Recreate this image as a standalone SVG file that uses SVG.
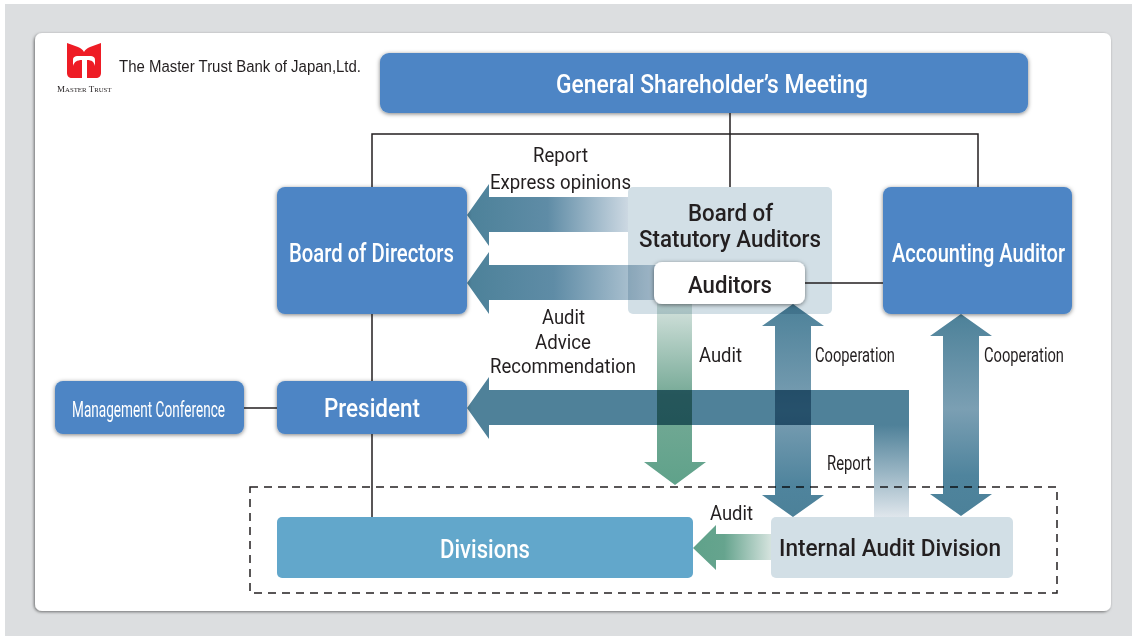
<svg xmlns="http://www.w3.org/2000/svg" width="1132" height="636" viewBox="0 0 1132 636">
<style>
text{font-family:"Roboto","Liberation Sans",sans-serif;text-anchor:start}
.h{font-size:25px;font-weight:500;fill:#fff}
.d{font-size:24px;font-weight:500;fill:#231f20}
.l{font-size:21px;font-weight:400;fill:#231f20}
.s{font-size:20px;font-weight:400;fill:#231f20}
.b{fill:#4d85c5;filter:url(#sh)}
.c{stroke:#231f20;stroke-width:1.5;fill:none}
.ar{mix-blend-mode:multiply}
</style>
<defs>
<filter id="sh" x="-10%" y="-15%" width="120%" height="135%"><feDropShadow dx="0" dy="1" stdDeviation="2" flood-color="#000" flood-opacity=".5"/></filter>
<filter id="ps" x="-2%" y="-2%" width="104%" height="104%"><feDropShadow dx="-1" dy="1" stdDeviation="1.8" flood-color="#000" flood-opacity=".5"/></filter>
<linearGradient id="g1" gradientUnits="userSpaceOnUse" x1="467" y1="0" x2="628" y2="0"><stop offset="0" stop-color="#4c8199"/><stop offset=".5" stop-color="#5f8ca6"/><stop offset="1" stop-color="#ccd8e2"/></linearGradient>
<linearGradient id="g2" gradientUnits="userSpaceOnUse" x1="467" y1="0" x2="660" y2="0"><stop offset="0" stop-color="#4c8199"/><stop offset=".45" stop-color="#5f8ca6"/><stop offset="1" stop-color="#c5d3de"/></linearGradient>
<linearGradient id="g3" gradientUnits="userSpaceOnUse" x1="0" y1="304" x2="0" y2="485"><stop offset="0" stop-color="#d5e3de"/><stop offset=".5" stop-color="#77aa97"/><stop offset="1" stop-color="#5fa28a"/></linearGradient>
<linearGradient id="g4" gradientUnits="userSpaceOnUse" x1="0" y1="304" x2="0" y2="517"><stop offset="0" stop-color="#4c8199"/><stop offset=".5" stop-color="#7b9fb3"/><stop offset=".85" stop-color="#4f849d"/><stop offset="1" stop-color="#4c8199"/></linearGradient>
<linearGradient id="g5" gradientUnits="userSpaceOnUse" x1="0" y1="314" x2="0" y2="516"><stop offset="0" stop-color="#4c8199"/><stop offset=".47" stop-color="#7b9fb3"/><stop offset=".8" stop-color="#4f849d"/><stop offset="1" stop-color="#4c8199"/></linearGradient>
<linearGradient id="g6" gradientUnits="userSpaceOnUse" x1="0" y1="425" x2="0" y2="517"><stop offset="0" stop-color="#4f8199"/><stop offset="1" stop-color="#dfe6ec"/></linearGradient>
<linearGradient id="g7" gradientUnits="userSpaceOnUse" x1="693" y1="0" x2="771" y2="0"><stop offset="0" stop-color="#5fa28a"/><stop offset=".4" stop-color="#66a48e"/><stop offset="1" stop-color="#d5e3de"/></linearGradient>
</defs>

<rect x="5" y="4" width="1127" height="632" fill="#dcdee0"/>
<rect x="35" y="33" width="1076" height="578" rx="7" fill="#fff" filter="url(#ps)"/>

<g id="logo">
<path d="M67 43L78 47C81 48 83 50 84 52V78H72C69 78 67 76 67 73Z" fill="#ee1c25"/>
<path d="M101 43L90 47C87 48 85 50 84 52V78H96C99 78 101 76 101 73Z" fill="#ee1c25"/>
<path d="M73 66V60C73 57 75 56 78 56H90C93 56 95 57 95 60V66C94 62 92 60 87 60V78H82V60C77 60 74 62 73 66Z" fill="#fff"/>
<text x="57" y="92" style="font-family:'Liberation Serif',serif;font-size:9px;fill:#231f20">M<tspan font-size="6.8">ASTER</tspan> T<tspan font-size="6.8">RUST</tspan></text>
<text x="119" y="72" style="font-family:'Liberation Sans',sans-serif;font-size:16px;fill:#231f20" textLength="242" lengthAdjust="spacingAndGlyphs">The Master Trust Bank of Japan,Ltd.</text>
</g>

<g id="general-meeting"><rect class="b" x="380" y="53" width="648" height="60" rx="9"/>
<text class="h" x="556" y="93" textLength="312" lengthAdjust="spacingAndGlyphs">General Shareholder’s Meeting</text></g>
<g id="board-directors"><rect class="b" x="277" y="187" width="190" height="127" rx="8"/>
<text class="h" x="289" y="262" textLength="165" lengthAdjust="spacingAndGlyphs">Board of Directors</text></g>
<g id="accounting-auditor"><rect class="b" x="883" y="187" width="189" height="127" rx="8"/>
<text class="h" x="892" y="262" textLength="173" lengthAdjust="spacingAndGlyphs">Accounting Auditor</text></g>
<g id="president"><rect class="b" x="277" y="381" width="190" height="53" rx="8"/>
<text class="h" x="324" y="417" textLength="96" lengthAdjust="spacingAndGlyphs">President</text></g>
<g id="management-conference"><rect class="b" x="55" y="381" width="189" height="53" rx="8"/>
<text class="h" style="font-size:22px;font-weight:400" x="72" y="417" textLength="153" lengthAdjust="spacingAndGlyphs">Management Conference</text></g>
<g id="divisions"><rect x="277" y="517" width="416" height="61" rx="5" fill="#62a7cb"/>
<text class="h" x="440" y="558" textLength="90" lengthAdjust="spacingAndGlyphs">Divisions</text></g>
<g id="internal-audit"><rect x="771" y="517" width="242" height="61" rx="5" fill="#d2dfe6"/>
<text class="d" x="779" y="556" textLength="222" lengthAdjust="spacingAndGlyphs">Internal Audit Division</text></g>
<g id="statutory-auditors"><rect x="628" y="187" width="204" height="127" rx="5" fill="#d2dfe6"/>
<text class="d" x="688" y="221" textLength="85" lengthAdjust="spacingAndGlyphs">Board of</text>
<text class="d" x="639" y="247" textLength="182" lengthAdjust="spacingAndGlyphs">Statutory Auditors</text></g>

<g id="connectors">
<path class="c" d="M730 113V187M372 187V134H978V187M372 314V381M372 434V517M244 408H277M805 283H883"/>
<rect x="250" y="487" width="807" height="106" fill="none" stroke="#231f20" stroke-width="1.5" stroke-dasharray="8 6"/>
<path class="ar" fill="url(#g1)" d="M467 215L489 184V197H628V232H489V246Z"/>
<path class="ar" fill="url(#g2)" d="M467 283L489 252V265H660V300H489V314Z"/>
<path class="ar" fill="url(#g3)" d="M657 304H692V462H706L675 485L644 462H657Z"/>
<path class="ar" fill="url(#g4)" d="M793 304L824 326H811V495H824L793 517L762 495H775V326H762Z"/>
<path class="ar" fill="url(#g5)" d="M961 314L992 336H979V494H992L961 516L930 494H943V336H930Z"/>
<path class="ar" fill="#4f8199" d="M467 408L489 377V390H909V425H489V439Z"/>
<rect class="ar" x="874" y="425" width="35" height="92" fill="url(#g6)"/>
<path fill="url(#g7)" d="M693 548L716 525V534H771V560H716V570Z"/>
</g>

<g id="auditors"><rect x="654" y="262" width="151" height="42" rx="8" fill="#fff" filter="url(#sh)"/>
<text class="d" x="688" y="293" textLength="84" lengthAdjust="spacingAndGlyphs">Auditors</text></g>

<g id="labels">
<text class="l" x="533" y="162" textLength="55" lengthAdjust="spacingAndGlyphs">Report</text>
<text class="l" x="490" y="189" textLength="141" lengthAdjust="spacingAndGlyphs">Express opinions</text>
<text class="l" x="542" y="324" textLength="43" lengthAdjust="spacingAndGlyphs">Audit</text>
<text class="l" x="535" y="349" textLength="56" lengthAdjust="spacingAndGlyphs">Advice</text>
<text class="l" x="490" y="373" textLength="146" lengthAdjust="spacingAndGlyphs">Recommendation</text>
<text class="l" x="699" y="362" textLength="43" lengthAdjust="spacingAndGlyphs">Audit</text>
<text class="s" x="815" y="362" textLength="80" lengthAdjust="spacingAndGlyphs">Cooperation</text>
<text class="s" x="984" y="362" textLength="80" lengthAdjust="spacingAndGlyphs">Cooperation</text>
<text class="s" x="827" y="470" textLength="44" lengthAdjust="spacingAndGlyphs">Report</text>
<text class="l" x="710" y="520" textLength="43" lengthAdjust="spacingAndGlyphs">Audit</text>
</g>
</svg>
